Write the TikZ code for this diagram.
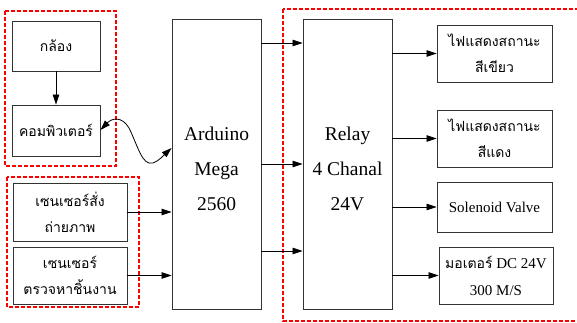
\documentclass[tikz,border=0pt]{standalone}
\usepackage{fontspec}
\setmainfont{Liberation Serif}
\newfontfamily\thai[Script=Thai]{Loma}
\usetikzlibrary{arrows.meta}
\tikzset{
  box/.style={draw=black!80, line width=0.9pt, inner sep=0pt, align=center, fill=white},
  bigtxt/.style={font=\fontsize{19.5}{35}\selectfont, align=center, inner sep=0pt},
  thaitxt/.style={font=\thai\fontsize{14}{26}\selectfont},
  smalltxt/.style={font=\fontsize{15}{27}\selectfont},
  arr/.style={line width=0.8pt, -{Triangle[length=10pt,width=6.5pt]}},
  grp/.style={draw=red, line width=1.3pt, dash pattern=on 4pt off 2pt}
}
\begin{document}
\begin{tikzpicture}[x=1pt,y=-1pt]
\useasboundingbox (0,0) rectangle (577,322);
% group frames
\draw[grp] (5,11) rectangle (116,166);
\draw[grp] (7,177) rectangle (139,307);
\draw[grp] (283,9) rectangle (620,321);
% nodes
\node[box, thaitxt, minimum width=88pt, minimum height=50pt] (cam) at (56,46) {กล้อง};
\node[box, thaitxt, minimum width=88pt, minimum height=51pt] (comp) at (56,130.5) {คอมพิวเตอร์};
\node[box, thaitxt, minimum width=114pt, minimum height=58pt] (s1) at (70,212) {เซนเซอร์สั่ง\\ถ่ายภาพ};
\node[box, thaitxt, minimum width=114pt, minimum height=57pt] (s2) at (70,275.5) {เซนเซอร์\\ตรวจหาชิ้นงาน};
\node[box, minimum width=89pt, minimum height=290pt] (ard) at (216.5,164) {};
\node[bigtxt] (ardt) at ([yshift=-4.5pt]ard.center) {Arduino\\Mega\\2560};
\node[box, minimum width=89pt, minimum height=290pt] (relay) at (347.5,164) {};
\node[bigtxt] (relayt) at ([yshift=-4.5pt]relay.center) {Relay\\4 Chanal\\24V};
\node[box, thaitxt, minimum width=115pt, minimum height=57pt] (o1) at (494.5,53.5) {ไฟแสดงสถานะ\\สีเขียว};
\node[box, thaitxt, minimum width=115pt, minimum height=57pt] (o2) at (494.5,138.5) {ไฟแสดงสถานะ\\สีแดง};
\node[box, smalltxt, minimum width=115pt, minimum height=50pt] (o3) at (494.5,207) {Solenoid Valve};
\node[box, smalltxt, minimum width=114pt, minimum height=57pt] (o4) at (496,275.5) {{\thai\fontsize{14}{27}\selectfont มอเตอร์} DC 24V\\300 M/S};
% helper levels
\coordinate (y43) at (0,43);
\coordinate (y164) at (0,164);
\coordinate (y251) at (0,251);
\coordinate (y130) at (0,130);
\coordinate (y148) at (0,148);
% connectors
\draw[arr] (cam) -- (comp);
\draw[arr] (s1.east) -- (s1.east -| ard.west);
\draw[arr] (s2.east) -- (s2.east -| ard.west);
\draw[arr] (ard.east |- y43) -- (relay.west |- y43);
\draw[arr] (ard.east |- y164) -- (relay.west |- y164);
\draw[arr] (ard.east |- y251) -- (relay.west |- y251);
\draw[arr] (relay.east |- o1.west) -- (o1.west);
\draw[arr] (relay.east |- o2.west) -- (o2.west);
\draw[arr] (relay.east |- o3.west) -- (o3.west);
\draw[arr] (relay.east |- o4.west) -- (o4.west);
\draw[line width=0.8pt, {Triangle[length=10pt,width=6.5pt]}-{Triangle[length=10pt,width=6.5pt]}]
  (comp.east |- y130) .. controls (112,118) and (122,116) .. (129,128)
  .. controls (138,146) and (142,166) .. (153,163)
  .. controls (159,161) and (165,154) .. (ard.west |- y148);
\end{tikzpicture}
\end{document}
